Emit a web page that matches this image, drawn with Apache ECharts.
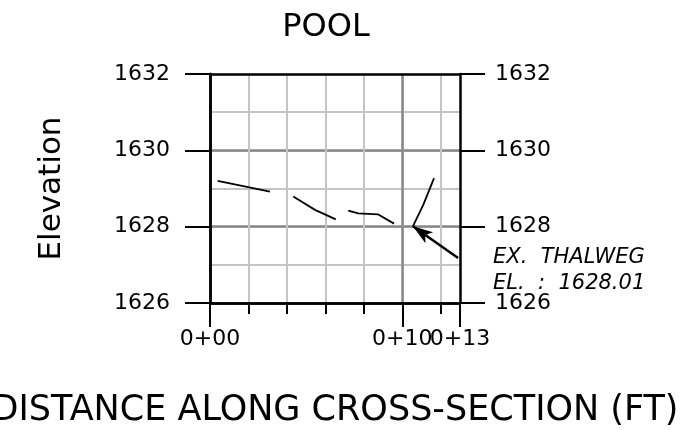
<!DOCTYPE html>
<html>
<head>
<meta charset="utf-8">
<script src="https://cdn.jsdelivr.net/npm/echarts@6/dist/echarts.min.js"></script>
<style>html,body{margin:0;padding:0;background:#fff}#c{width:688px;height:430px}</style>
</head>
<body>
<div id="c"></div>
<script>
// ---- data ----
const stations   = [0.40, 3.12, null, 4.33, 5.46, 6.54, null, 7.19, 7.71, 8.75, 9.57, null, 10.55, 11.09, 11.65];
const elevations = [1629.20, 1628.92, null, 1628.79, 1628.44, 1628.19, null, 1628.42, 1628.35, 1628.32, 1628.08, null, 1628.01, 1628.57, 1629.27];
const xTickValues = [0, 10, 13];
const xTickLabels = ['0+00', '0+10', '0+13'];
const yTickValues = [1626, 1628, 1630, 1632];
const thalweg = [10.55, 1628.01];
const leaderElbow = [12.9, 1627.18];
const leaderEnd = [14.3, 1627.18];
const noteLines = ['EX.  THALWEG', 'EL.  :  1628.01'];
const titleText = 'POOL';
const xTitle = 'DISTANCE ALONG CROSS-SECTION (FT)';
const yTitle = 'Elevation';

const FONT = 'DejaVu Sans';
const LIGHT = '#c4c4c4', DARK = '#888888', BLACK = '#000';
const gridBox = {left: 210, right: 228, top: 74, bottom: 127, outerBoundsMode: 'none', containLabel: false};

const chart = echarts.init(document.getElementById('c'), null, {renderer: 'canvas'});
const data = stations.map((s, i) => s === null ? [null, null] : [s, elevations[i]]);

const blackLine = {show: true, onZero: false, lineStyle: {color: BLACK, width: 2.5}};
const xLabel = (allowed) => v => {
  const i = xTickValues.indexOf(v);
  return (i >= 0 && allowed.indexOf(v) >= 0) ? xTickLabels[i] : '';
};
const yLabel = v => (yTickValues.indexOf(v) >= 0 ? String(v) : '');
const labelBase = {show: true, margin: 25, showMinLabel: true, showMaxLabel: true, hideOverlap: false,
  color: BLACK, fontFamily: FONT, fontSize: 22};

chart.setOption({
  animation: false,
  backgroundColor: '#fff',
  grid: [Object.assign({}, gridBox), Object.assign({}, gridBox)],
  xAxis: [
    { // minor grid
      gridIndex: 0, type: 'value', position: 'bottom', min: 0, max: 13, interval: 2,
      axisLine: blackLine,
      axisTick: {show: true, inside: false, length: 11, lineStyle: {color: BLACK, width: 2}},
      axisLabel: {show: false},
      splitLine: {show: true, showMinLine: false, showMaxLine: false, lineStyle: {color: LIGHT, width: 2}}
    },
    { // major grid + end labels
      gridIndex: 1, type: 'value', position: 'bottom', min: 0, max: 13, interval: 10,
      axisLine: blackLine,
      axisTick: {show: true, inside: false, length: 24, lineStyle: {color: BLACK, width: 2}},
      axisLabel: Object.assign({}, labelBase, {formatter: xLabel([0, 13])}),
      splitLine: {show: true, showMinLine: false, showMaxLine: false, lineStyle: {color: DARK, width: 2.5}},
      name: xTitle, nameLocation: 'middle', nameGap: 90, nameMoveOverlap: false,
      nameTextStyle: {color: BLACK, fontFamily: FONT, fontSize: 35}
    },
    { // top border
      gridIndex: 1, type: 'value', position: 'top', min: 0, max: 13,
      axisLine: blackLine, axisTick: {show: false}, axisLabel: {show: false}, splitLine: {show: false}
    }
  ],
  yAxis: [
    {
      gridIndex: 0, type: 'value', position: 'left', min: 1626, max: 1632, interval: 1,
      axisLine: blackLine, axisTick: {show: false}, axisLabel: {show: false},
      splitLine: {show: true, showMinLine: false, showMaxLine: false, lineStyle: {color: LIGHT, width: 2}}
    },
    {
      gridIndex: 1, type: 'value', position: 'left', min: 1626, max: 1632, interval: 2,
      axisLine: blackLine,
      axisTick: {show: true, inside: false, length: 25, lineStyle: {color: BLACK, width: 2}},
      axisLabel: {show: true, margin: 40, color: BLACK, fontFamily: FONT, fontSize: 22, showMinLabel: true, showMaxLabel: true, hideOverlap: false, formatter: yLabel},
      splitLine: {show: true, showMinLine: false, showMaxLine: false, lineStyle: {color: DARK, width: 2.5}},
      name: yTitle, nameLocation: 'middle', nameGap: 143, nameRotate: 90, nameMoveOverlap: false,
      nameTextStyle: {color: BLACK, fontFamily: FONT, fontSize: 31}
    },
    {
      gridIndex: 1, type: 'value', position: 'right', min: 1626, max: 1632, interval: 2,
      axisLine: blackLine,
      axisTick: {show: true, inside: false, length: 25, lineStyle: {color: BLACK, width: 2}},
      axisLabel: {show: true, margin: 35, color: BLACK, fontFamily: FONT, fontSize: 22, showMinLabel: true, showMaxLabel: true, hideOverlap: false, formatter: yLabel},
      splitLine: {show: false}
    }
  ],
  series: [{
    type: 'line', xAxisIndex: 1, yAxisIndex: 1, data: data,
    connectNulls: false, showSymbol: false, symbol: 'none', clip: false, silent: true,
    lineStyle: {color: BLACK, width: 1.8},
    markLine: {
      silent: true, symbol: ['none', 'none'], animation: false,
      label: {show: false},
      lineStyle: {color: BLACK, width: 2.5, type: 'solid'},
      data: [
        [{coord: leaderElbow, symbol: 'none'}, {coord: thalweg, symbol: 'arrow', symbolSize: [10, 20]}],
        [{coord: leaderElbow, symbol: 'none'}, {coord: leaderEnd, symbol: 'none'}]
      ]
    }
  }]
});

// middle station label (0+10), drawn separately so it may overlap 0+13 as in the drawing
const midIdx = 1;
const midPx = chart.convertToPixel({xAxisIndex: 1, yAxisIndex: 1}, [xTickValues[midIdx], yTickValues[0]]);
const endPx = chart.convertToPixel({xAxisIndex: 1, yAxisIndex: 1}, leaderEnd);
chart.setOption({
  graphic: [
    {type: 'text', x: 326, y: 28, style: {text: titleText, font: '32px "DejaVu Sans"', fill: BLACK, align: 'center', verticalAlign: 'middle'}},
    {type: 'text', x: midPx[0], y: midPx[1] + 25, style: {text: xTickLabels[midIdx], font: '22px "DejaVu Sans"', fill: BLACK, align: 'center', verticalAlign: 'top'}},
    {type: 'text', x: endPx[0] + 8, y: endPx[1], style: {text: noteLines[0], font: 'italic 21px "DejaVu Sans"', fill: BLACK, align: 'left', verticalAlign: 'middle'}},
    {type: 'text', x: endPx[0] + 8, y: endPx[1] + 26, style: {text: noteLines[1], font: 'italic 21px "DejaVu Sans"', fill: BLACK, align: 'left', verticalAlign: 'middle'}}
  ]
});
</script>
</body>
</html>
